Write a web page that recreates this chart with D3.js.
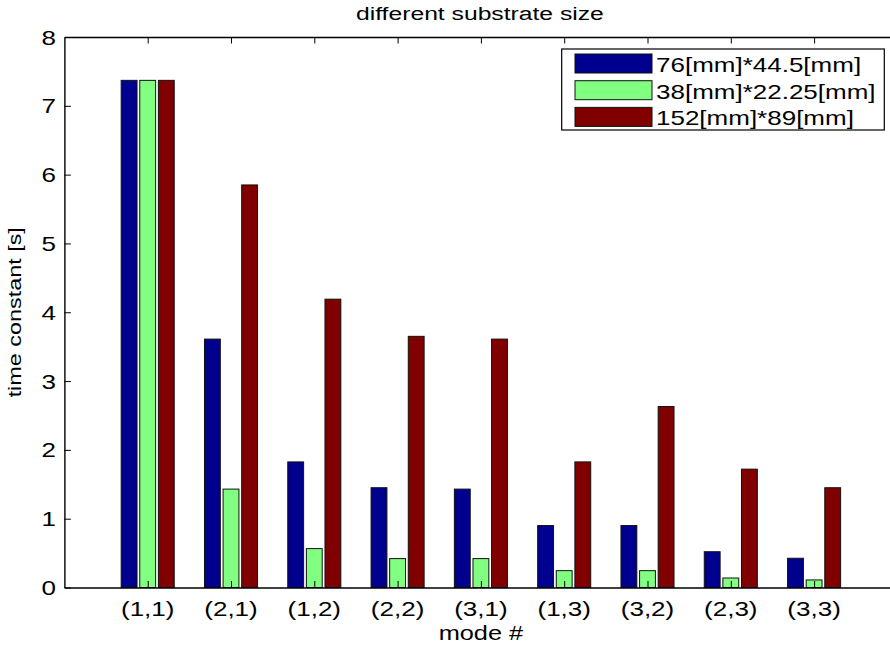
<!DOCTYPE html>
<html>
<head>
<meta charset="utf-8">
<script src="https://cdn.jsdelivr.net/npm/d3@7"></script>
<style>
  html, body { margin: 0; padding: 0; background: #fff; }
  svg { display: block; }
  text { font-family: "Liberation Sans", Arial, Helvetica, sans-serif; fill: #000; }
</style>
</head>
<body>
<div id="chart"></div>
<script>
// Mode labels along the x axis
const modes = ["(1,1)", "(2,1)", "(1,2)", "(2,2)", "(3,1)", "(1,3)", "(3,2)", "(2,3)", "(3,3)"];

// Substrate sizes (legend entries) and bar colours
const seriesNames = ["76[mm]*44.5[mm]", "38[mm]*22.25[mm]", "152[mm]*89[mm]"];
const seriesColors = ["#00008f", "#80ff80", "#800000"];

// Time constants [s] for each substrate size, per mode
const size76 = [7.37, 3.61, 1.825, 1.45, 1.43, 0.90, 0.90, 0.52, 0.425];
const size38 = [7.37, 1.43, 0.565, 0.42, 0.42, 0.245, 0.245, 0.138, 0.11];
const size152 = [7.37, 5.85, 4.19, 3.65, 3.61, 1.825, 2.63, 1.72, 1.45];

const yTicks = [0, 1, 2, 3, 4, 5, 6, 7, 8];

const W = 890, H = 647;
const mLeft = 64.4, mRight = 897.4, mTop = 37, mBottom = 587.5;
const tickLen = 6.5;
const sx = 1.3; // horizontal stretch of the wide figure font

const svg = d3.select("#chart").append("svg")
  .attr("width", W).attr("height", H);

const x = d3.scaleLinear().domain([0, 10]).range([mLeft, mRight]);
const y = d3.scaleLinear().domain([0, 8]).range([mBottom, mTop]);
const offset = d3.scaleBand().domain(d3.range(seriesNames.length))
  .range([-0.335, 0.335]).paddingInner(0.148).paddingOuter(0.074);

const allSeries = [size76, size38, size152];

// Bars
const plot = svg.append("g");
allSeries.forEach((vals, s) => {
  plot.selectAll(null).data(vals).enter().append("rect")
    .attr("x", (d, i) => x(i + 1 + offset(s)))
    .attr("width", (d, i) => x(i + 1 + offset(s) + offset.bandwidth()) - x(i + 1 + offset(s)))
    .attr("y", d => y(d))
    .attr("height", d => y(0) - y(d))
    .attr("fill", seriesColors[s])
    .attr("stroke", "#111")
    .attr("stroke-width", 1);
});

// Text drawn with the figure's wide letterforms
function stretchedText(g, tx, ty, str, size, anchor, rot) {
  const t = g.append("g").attr("transform",
    `translate(${tx},${ty})` + (rot ? ` rotate(${rot})` : "") + ` scale(${sx},1)`);
  t.append("text").attr("x", 0).attr("y", 0)
    .attr("text-anchor", anchor).style("font-size", size + "px").text(str);
  return t;
}

// Axes box with inward ticks (bottom/left labelled, top/right mirrored)
const xAxis = d3.axisBottom(x).tickValues(d3.range(1, modes.length + 1))
  .tickSize(-tickLen).tickSizeOuter(0).tickFormat("");
const xAxisTop = d3.axisTop(x).tickValues(d3.range(1, modes.length + 1))
  .tickSize(-tickLen).tickSizeOuter(0).tickFormat("");
const yAxis = d3.axisLeft(y).tickValues(yTicks).tickSize(-tickLen).tickSizeOuter(0).tickFormat("");
const yAxisRight = d3.axisRight(y).tickValues(yTicks).tickSize(-tickLen).tickSizeOuter(0).tickFormat("");

const axStyle = g => {
  g.selectAll(".domain").attr("stroke", "#000").attr("stroke-width", 1.4);
  g.selectAll(".tick line").attr("stroke", "#000").attr("stroke-width", 1);
};
svg.append("g").attr("transform", `translate(0,${mBottom})`).call(xAxis).call(axStyle);
svg.append("g").attr("transform", `translate(0,${mTop})`).call(xAxisTop).call(axStyle);
svg.append("g").attr("transform", `translate(${mLeft},0)`).call(yAxis).call(axStyle);
svg.append("g").attr("transform", `translate(${mRight},0)`).call(yAxisRight).call(axStyle);

// Tick labels
const labels = svg.append("g");
modes.forEach((m, i) => stretchedText(labels, x(i + 1), 616, m, 20, "middle"));
yTicks.forEach(v => stretchedText(labels, 56, y(v) + 7.5, String(v), 20, "end"));

// Title and axis labels
stretchedText(svg, (mLeft + mRight) / 2 - 1, 20, "different substrate size", 19, "middle");
stretchedText(svg, (mLeft + mRight) / 2, 640, "mode #", 19.5, "middle");
stretchedText(svg, 21, (mTop + mBottom) / 2, "time constant [s]", 18, "middle", -90);

// Legend
const lg = svg.append("g");
lg.append("rect").attr("x", 561.7).attr("y", 49).attr("width", 322.6).attr("height", 81)
  .attr("fill", "#fff").attr("stroke", "#000").attr("stroke-width", 1.2);
seriesNames.forEach((name, i) => {
  const ry = 54 + i * 26.7;
  lg.append("rect").attr("x", 575).attr("y", ry).attr("width", 77).attr("height", 19)
    .attr("fill", seriesColors[i]).attr("stroke", "#111").attr("stroke-width", 1);
  stretchedText(lg, 656, ry + 18, name, 20, "start");
});
</script>
</body>
</html>
